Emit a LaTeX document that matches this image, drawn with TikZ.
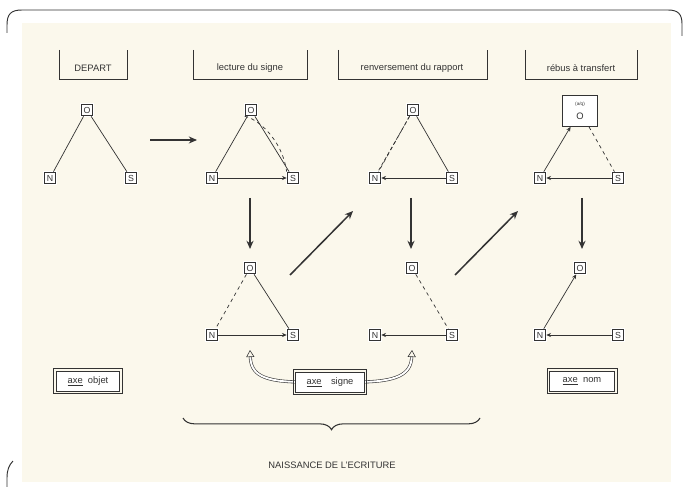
\documentclass[tikz,border=0pt]{standalone}
\usepackage{fontspec}
\setmainfont{Liberation Sans}
\usetikzlibrary{arrows.meta,decorations.pathreplacing}
\definecolor{ink}{HTML}{333333}
\definecolor{paper}{HTML}{FBF8EC}

\begin{document}
\begin{tikzpicture}[x=0.03cm,y=-0.03cm,
  every node/.style={inner sep=0pt, outer sep=0pt, text=ink, font=\fontsize{8}{9}\selectfont},
  lettre/.style={draw=ink, line width=0.5pt, double=white, double distance=0.8pt, fill=white, minimum size=0.38cm, font=\fontsize{7.5}{8}\selectfont},
  axebox/.style={draw=ink, line width=0.7pt, fill=white, minimum height=0.6cm},
  cadre/.style={draw=ink, line width=0.7pt},
  lien/.style={draw=ink, line width=0.6pt},
  fleche/.style={draw=ink, line width=0.6pt, -{Stealth[length=4pt,width=3.5pt]}},
  grosse/.style={draw=ink, line width=1.3pt, -{Stealth[length=7pt,width=6pt]}}]
\useasboundingbox (0,0) rectangle (684,487);
\fill[paper] (22,23) rectangle (671,482);

% frame
\draw[ink, line width=0.8pt] (7,33) -- (7,25) .. controls (7,14) and (11,10) .. (22,10) -- (668,10) .. controls (678,10) and (682,14) .. (682,24) -- (682,36);
\draw[ink, line width=0.8pt] (13,461) .. controls (9,465) and (7,470) .. (7,478) -- (7,487);

% headers
\draw[ink, line width=0.8pt] (59,50) -- (59,79) -- (127,79) -- (127,50);
\draw[ink, line width=0.8pt] (193,50) -- (193,79) -- (307,79) -- (307,50);
\draw[ink, line width=0.8pt] (338,50) -- (338,79) -- (487,79) -- (487,50);
\draw[ink, line width=0.8pt] (525,50) -- (525,79) -- (637,79) -- (637,50);
\node (depart) at (93,68) {DEPART};
\node (lecture) at (250,68) {lecture du signe};
\node (renvers) at (412,68) {renversement du rapport};
\node (rebus) at (581,68) {rébus à transfert};

% first row
\node[lettre] (O1) at (87,110) {O};
\node[lettre] (N1) at (50,178) {N};
\node[lettre] (S1) at (131,178) {S};
\node[lettre] (O2) at (251,110) {O};
\node[lettre] (N2) at (212,178) {N};
\node[lettre] (S2) at (293,178) {S};
\node[lettre] (O3) at (413,110) {O};
\node[lettre] (N3) at (375,178) {N};
\node[lettre] (S3) at (452,178) {S};
\node[draw=ink, line width=0.8pt, fill=white, minimum width=1.05cm, minimum height=0.95cm, align=center] (O4) at (580,111) {{\fontsize{4}{5}\selectfont (a/q)}\\[3pt] O};
\node[lettre] (N4) at (540,178) {N};
\node[lettre] (S4) at (618,178) {S};

\draw[lien] (O1) -- (N1);
\draw[lien] (O1) -- (S1);
\draw[lien] (O2) -- (N2);
\draw[lien] (O2) -- (S2);
\draw[lien, dashed] (O2.south west) .. controls (256,118) and (282,138) .. (S2.north west);
\draw[fleche] (N2) -- (S2);
\draw[lien] (O3) -- (S3);
\draw[lien, dashed] (O3) -- (N3);
\draw[lien, densely dashed] ([xshift=2.5pt]O3.south west) -- ([xshift=2.5pt]N3.north);
\draw[fleche] (S3) -- (N3);
\draw[fleche] (N4) -- (O4);
\draw[lien, dashed] (O4) -- (S4);
\draw[fleche] (S4) -- (N4);

% second row
\node[lettre] (O5) at (250,268) {O};
\node[lettre] (N5) at (212,335) {N};
\node[lettre] (S5) at (293,335) {S};
\node[lettre] (O6) at (412,268) {O};
\node[lettre] (N6) at (375,335) {N};
\node[lettre] (S6) at (452,335) {S};
\node[lettre] (O7) at (580,268) {O};
\node[lettre] (N7) at (540,335) {N};
\node[lettre] (S7) at (618,335) {S};

\draw[lien, dashed] (O5) -- (N5);
\draw[lien] (O5) -- (S5);
\draw[fleche] (N5) -- (S5);
\draw[lien, dashed] (O6) -- (S6);
\draw[fleche] (S6) -- (N6);
\draw[fleche] (N7) -- (O7);
\draw[fleche] (S7) -- (N7);

% big arrows
\coordinate (h1) at (150,140);
\coordinate (h2) at (197,140);
\coordinate (d1) at (250,198);
\coordinate (d2) at (250,249);
\coordinate (d3) at (411,198);
\coordinate (d4) at (411,249);
\coordinate (d5) at (582,198);
\coordinate (d6) at (582,249);
\coordinate (g1) at (290,275);
\coordinate (g2) at (353,211);
\coordinate (g3) at (455,275);
\coordinate (g4) at (518,211);
\draw[grosse, line width=1.8pt] (h1) -- (h2);
\draw[grosse] (d1) -- (d2);
\draw[grosse] (d3) -- (d4);
\draw[grosse] (d5) -- (d6);
\draw[grosse] (g1) -- (g2);
\draw[grosse] (g3) -- (g4);

% axes
\coordinate (tipL) at (250,350);
\coordinate (tipR) at (412,350);
\draw[ink, line width=0.5pt, double=white, double distance=1.6pt, -{Triangle[open,length=6pt,width=7pt]}] (330,382) -- (303,382) .. controls (262,382) and (251,374) .. (tipL);
\draw[ink, line width=0.5pt, double=white, double distance=1.6pt, -{Triangle[open,length=6pt,width=7pt]}] (330,382) -- (357,382) .. controls (398,382) and (411,374) .. (tipR);

\node[axebox, minimum width=1.9cm] (objet) at (88,381) {\underline{axe}\ \ objet};
\node[axebox, minimum width=2.05cm] (signe) at (330,382) {\underline{axe}\quad signe};
\node[axebox, minimum width=1.95cm] (nom) at (582,381) {\underline{axe}\ \ nom};
\draw[cadre] ([shift={(-2.2pt,2.2pt)}]objet.north west) rectangle ([shift={(2.2pt,-2.2pt)}]objet.south east);
\draw[cadre] ([shift={(-2.2pt,2.2pt)}]signe.north west) rectangle ([shift={(2.2pt,-2.2pt)}]signe.south east);
\draw[cadre] ([shift={(-2.2pt,2.2pt)}]nom.north west) rectangle ([shift={(2.2pt,-2.2pt)}]nom.south east);

% brace
\coordinate (b1) at (183,418);
\coordinate (b2) at (480,418);
\draw[ink, line width=0.9pt, decorate, decoration={brace, mirror, amplitude=10pt}] (b1) -- (b2);
\node (naissance) at (332,465) {NAISSANCE DE L'ECRITURE};
\end{tikzpicture}
\end{document}
